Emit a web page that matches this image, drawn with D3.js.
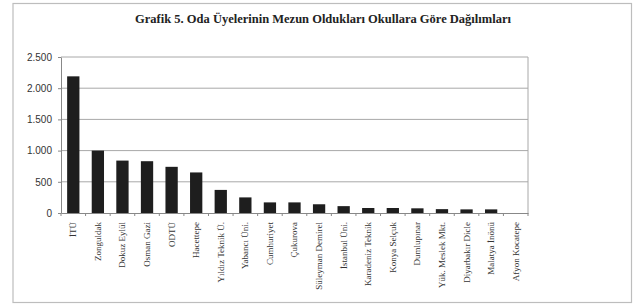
<!DOCTYPE html>
<html><head><meta charset="utf-8">
<script src="https://cdn.jsdelivr.net/npm/d3@7"></script>
<style>body{margin:0;background:#fff;}svg{display:block;}</style>
</head><body>
<script>
const title = "Grafik 5. Oda Üyelerinin Mezun Oldukları Okullara Göre Dağılımları";
const categories = ["İTÜ","Zonguldak","Dokuz Eylül","Osman Gazi","ODTÜ","Hacettepe","Yıldız Teknik Ü.","Yabancı Üni.","Cumhuriyet","Çukurova","Süleyman Demirel","İstanbul Üni.","Karadeniz Teknik","Konya Selçuk","Dumlupınar","Yük. Meslek Mkt.","Diyarbakır Dicle","Malatya İnönü","Afyon Kocatepe"];
const values = [2190,1000,840,830,740,650,370,250,170,170,140,110,80,80,75,62,58,58,0];
const yTicks = [0,500,1000,1500,2000,2500];

const W=633,H=305;
const svg=d3.select("body").append("svg").attr("width",W).attr("height",H);
svg.append("rect").attr("x",13).attr("y",3.5).attr("width",618.5).attr("height",299).attr("fill","#fff").attr("stroke","#bdbdbd").attr("stroke-width",1.2);

svg.append("text").attr("x",323).attr("y",23).attr("text-anchor","middle")
  .attr("font-family","Liberation Serif, Times New Roman, serif").attr("font-weight","bold").attr("font-size",12.5).attr("fill","#222").text(title);

const L=61,R=528,T=57,B=213;
const x=d3.scaleBand().domain(categories).range([L,R]).paddingInner(0.5).paddingOuter(0.25);
const y=d3.scaleLinear().domain([0,2500]).range([B,T]);

// gridlines
svg.append("g").selectAll("line").data(yTicks.filter(d=>d>0)).join("line")
  .attr("x1",L).attr("x2",R).attr("y1",d=>y(d)).attr("y2",d=>y(d)).attr("stroke","#a8a8a8").attr("stroke-width",1);
svg.append("line").attr("x1",R).attr("x2",R).attr("y1",T).attr("y2",B).attr("stroke","#a8a8a8");

// bars
svg.append("g").selectAll("rect").data(values).join("rect")
  .attr("x",(d,i)=>x(categories[i])).attr("width",x.bandwidth())
  .attr("y",d=>y(d)).attr("height",d=>B-y(d)).attr("fill","#1e1e1e");

// y axis
const ya=svg.append("g").attr("transform",`translate(${L},0)`).call(d3.axisLeft(y).tickValues(yTicks).tickSize(3).tickSizeOuter(0).tickFormat(d=>d3.format(",")(d).replace(/,/g,".")));
ya.select(".domain").attr("stroke","#888");
ya.selectAll(".tick line").attr("stroke","#888");
ya.selectAll("text").attr("font-family","Liberation Sans, Arial, sans-serif").attr("font-size",10).attr("fill","#333").attr("x",-9);

// x axis
const band=x.step();
const xa=svg.append("g").attr("transform",`translate(0,${B})`).call(d3.axisBottom(x).tickSize(0).tickSizeOuter(0));
xa.select(".domain").attr("stroke","#888");
xa.selectAll(".tick text").attr("font-family","Liberation Serif, Times New Roman, serif").attr("font-size",9).attr("fill","#333")
  .attr("transform","rotate(-90)").attr("text-anchor","end").attr("x",-9).attr("y",0).attr("dy","0.33em");
// category separator ticks
svg.append("g").selectAll("line").data(d3.range(categories.length+1)).join("line")
  .attr("x1",i=>L+i*band).attr("x2",i=>L+i*band).attr("y1",B).attr("y2",B+3).attr("stroke","#888");
</script>
</body></html>
